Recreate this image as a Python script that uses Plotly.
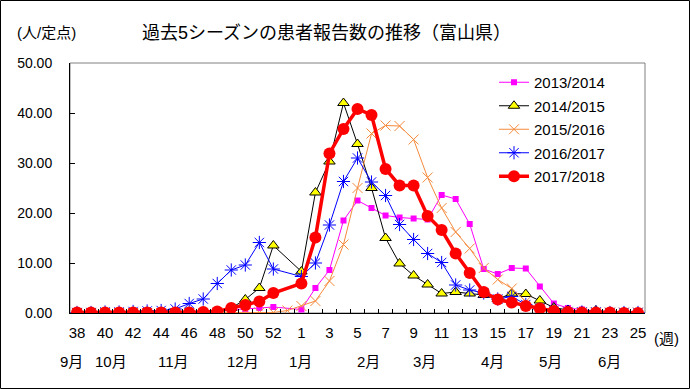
import plotly.graph_objects as go

# ---- data ----
weeks = [str(w) for w in range(38, 54)] + [str(w) for w in range(1, 26)]
N = None
s2013 = [0.1, 0.1, 0.1, 0.1, 0.1, 0.1, 0.2, 0.2, 0.3, 0.4, 0.5, 0.6, 0.8, 1.0, 1.2, N,
         0.7, 5.0, 8.6, 18.5, 22.5, 21.0, 19.5, 19.1, 18.9, 18.7, 23.6, 22.8, 17.8, 8.8,
         7.8, 9.0, 8.9, 5.3, 1.9, 1.0, 0.7, 0.4, 0.3, 0.2, 0.2]
s2014 = [0.1, 0.1, 0.1, 0.1, 0.1, 0.1, 0.1, 0.1, 0.2, 0.2, 0.4, 1.0, 2.7, 5.0, 13.5, N,
         8.3, 24.1, 30.3, 42.0, 33.8, 25.0, 15.0, 9.9, 7.5, 5.7, 3.9, 4.2, 3.9, 3.6,
         2.8, 3.9, 3.8, 2.5, 1.1, 0.6, 0.3, 0.5, 0.2, 0.2, 0.1]
s2015 = [0.0, 0.0, 0.0, 0.0, 0.0, 0.0, 0.0, 0.0, 0.0, 0.0, 0.0, 0.0, 0.1, 0.1, 0.1, 0.5,
         1.4, 2.4, 6.4, 13.7, 25.0, 35.9, 37.5, 37.4, 34.7, 27.1, 21.0, 16.2, 12.9, 9.0,
         6.7, 4.9, 2.3, 0.5, 0.2, 0.1, 0.1, 0.1, 0.1, 0.1, 0.1]
s2016 = [0.1, 0.1, 0.2, 0.2, 0.3, 0.4, 0.5, 0.8, 1.9, 2.8, 5.9, 8.6, 9.6, 14.1, 8.8, N,
         7.3, 10.0, 17.6, 26.3, 31.0, 26.2, 23.5, 17.7, 14.7, 11.9, 10.1, 5.6, 4.6, 4.0,
         2.8, 3.3, 1.7, 0.8, 0.5, 0.3, 0.2, 0.2, 0.1, 0.1, 0.1]
s2017 = [0.1, 0.1, 0.1, 0.1, 0.1, 0.1, 0.1, 0.1, 0.1, 0.2, 0.3, 1.0, 1.6, 2.3, 4.0, N,
         5.9, 15.1, 31.9, 36.8, 40.8, 39.6, 28.8, 25.5, 25.5, 19.4, 16.6, 11.9, 8.0, 4.2,
         2.7, 2.1, 1.4, 0.9, 0.4, 0.2, 0.1, 0.1, 0.1, 0.0, 0.0]
series_names = ["2013/2014", "2014/2015", "2015/2016", "2016/2017", "2017/2018"]
months = ["9月", "10月", "11月", "12月", "1月", "2月", "3月", "4月", "5月", "6月"]
month_at = [-0.4, 2.45, 6.85, 11.85, 15.9, 20.8, 24.8, 29.65, 33.74, 37.97]

# ---- layout geometry (pixels) ----
W, H = 690, 389
L, R, T, B = 70, 645, 63, 313
pw, ph = R - L, B - T
def px(x): return (x - L) / pw
def py(y): return (B - y) / ph

xs = list(range(len(weeks)))
FONT = "Liberation Sans, Arial, Noto Sans CJK JP"

fig = go.Figure()
styles = [
    dict(line=dict(color="#FF00FF", width=1),
         marker=dict(symbol="square", size=6, color="#FF00FF")),
    dict(line=dict(color="#000000", width=1),
         marker=dict(symbol="triangle-up", size=10, color="#FFFF00",
                     line=dict(color="#000000", width=1))),
    dict(line=dict(color="#F58A3C", width=1),
         marker=dict(symbol="x-thin-open", size=10, color="#F58A3C",
                     line=dict(color="#F58A3C", width=1))),
    dict(line=dict(color="#0000FF", width=1),
         marker=dict(symbol="asterisk-open", size=11, color="#0000FF",
                     line=dict(color="#0000FF", width=1))),
    dict(line=dict(color="#FF0000", width=3.5),
         marker=dict(symbol="circle", size=12, color="#FF0000")),
]
for name, ys, st in zip(series_names, [s2013, s2014, s2015, s2016, s2017], styles):
    fig.add_trace(go.Scatter(x=xs, y=ys, name=name, mode="lines+markers",
                             connectgaps=True, legendgroup=name, **st))

tickv = [i for i in xs if i % 2 == 0]
fig.update_xaxes(range=[-0.5, len(weeks) - 0.5], tickmode="array", tickvals=tickv,
                 ticktext=[weeks[i] for i in tickv], ticks="",
                 showline=True, linecolor="black", linewidth=1, showgrid=False,
                 zeroline=False, tickfont=dict(size=15, family=FONT, color="black"),
                 ticklabelstandoff=6,
                 minor=dict(tickmode="array", tickvals=[i + 0.5 for i in xs[:-1]],
                            ticks="inside", ticklen=4, tickcolor="black", showgrid=False))
fig.update_yaxes(range=[0, 50], tickvals=[0, 10, 20, 30, 40, 50], tickformat=".2f",
                 ticks="inside", ticklen=5, tickcolor="black",
                 showline=True, linecolor="black", linewidth=1, showgrid=False,
                 zeroline=False, tickfont=dict(size=14, family=FONT, color="black"),
                 ticklabelstandoff=14)

ann = [
    dict(text="過去5シーズンの患者報告数の推移（富山県）", x=px(326), y=py(33),
         font=dict(size=18)),
    dict(text="(人/定点)", x=px(46), y=py(33), font=dict(size=15)),
    dict(text="(週)", x=px(666), y=py(338), font=dict(size=15)),
]
for m, pos in zip(months, month_at):
    ann.append(dict(text=m, x=pos, xref="x", y=py(361), font=dict(size=15)))
for a in ann:
    a.setdefault("xref", "paper")
    a.update(yref="paper", showarrow=False, xanchor="center", yanchor="middle")
    a["font"] = dict(family=FONT, color="black", **a["font"])

shapes = [
    dict(type="rect", xref="paper", yref="paper", x0=0, x1=1, y0=0, y1=1,
         line=dict(color="#808080", width=1), layer="below"),
    dict(type="rect", xref="paper", yref="paper", x0=px(0.5), x1=px(W - 0.5),
         y0=py(H - 0.5), y1=py(0.5), line=dict(color="black", width=1)),
]

fig.update_layout(
    width=W, height=H, margin=dict(l=L, r=W - R, t=T, b=H - B),
    paper_bgcolor="white", plot_bgcolor="white",
    font=dict(family=FONT, color="black"),
    annotations=ann, shapes=shapes,
    legend=dict(x=px(494), y=py(66), xanchor="left", yanchor="top",
                bgcolor="rgba(0,0,0,0)", tracegroupgap=1,
                font=dict(size=15, family=FONT, color="black")),
)
fig.write_html("out.html", config={"displayModeBar": False},
               post_script="document.body.style.margin='0';document.body.style.overflow='hidden';")
